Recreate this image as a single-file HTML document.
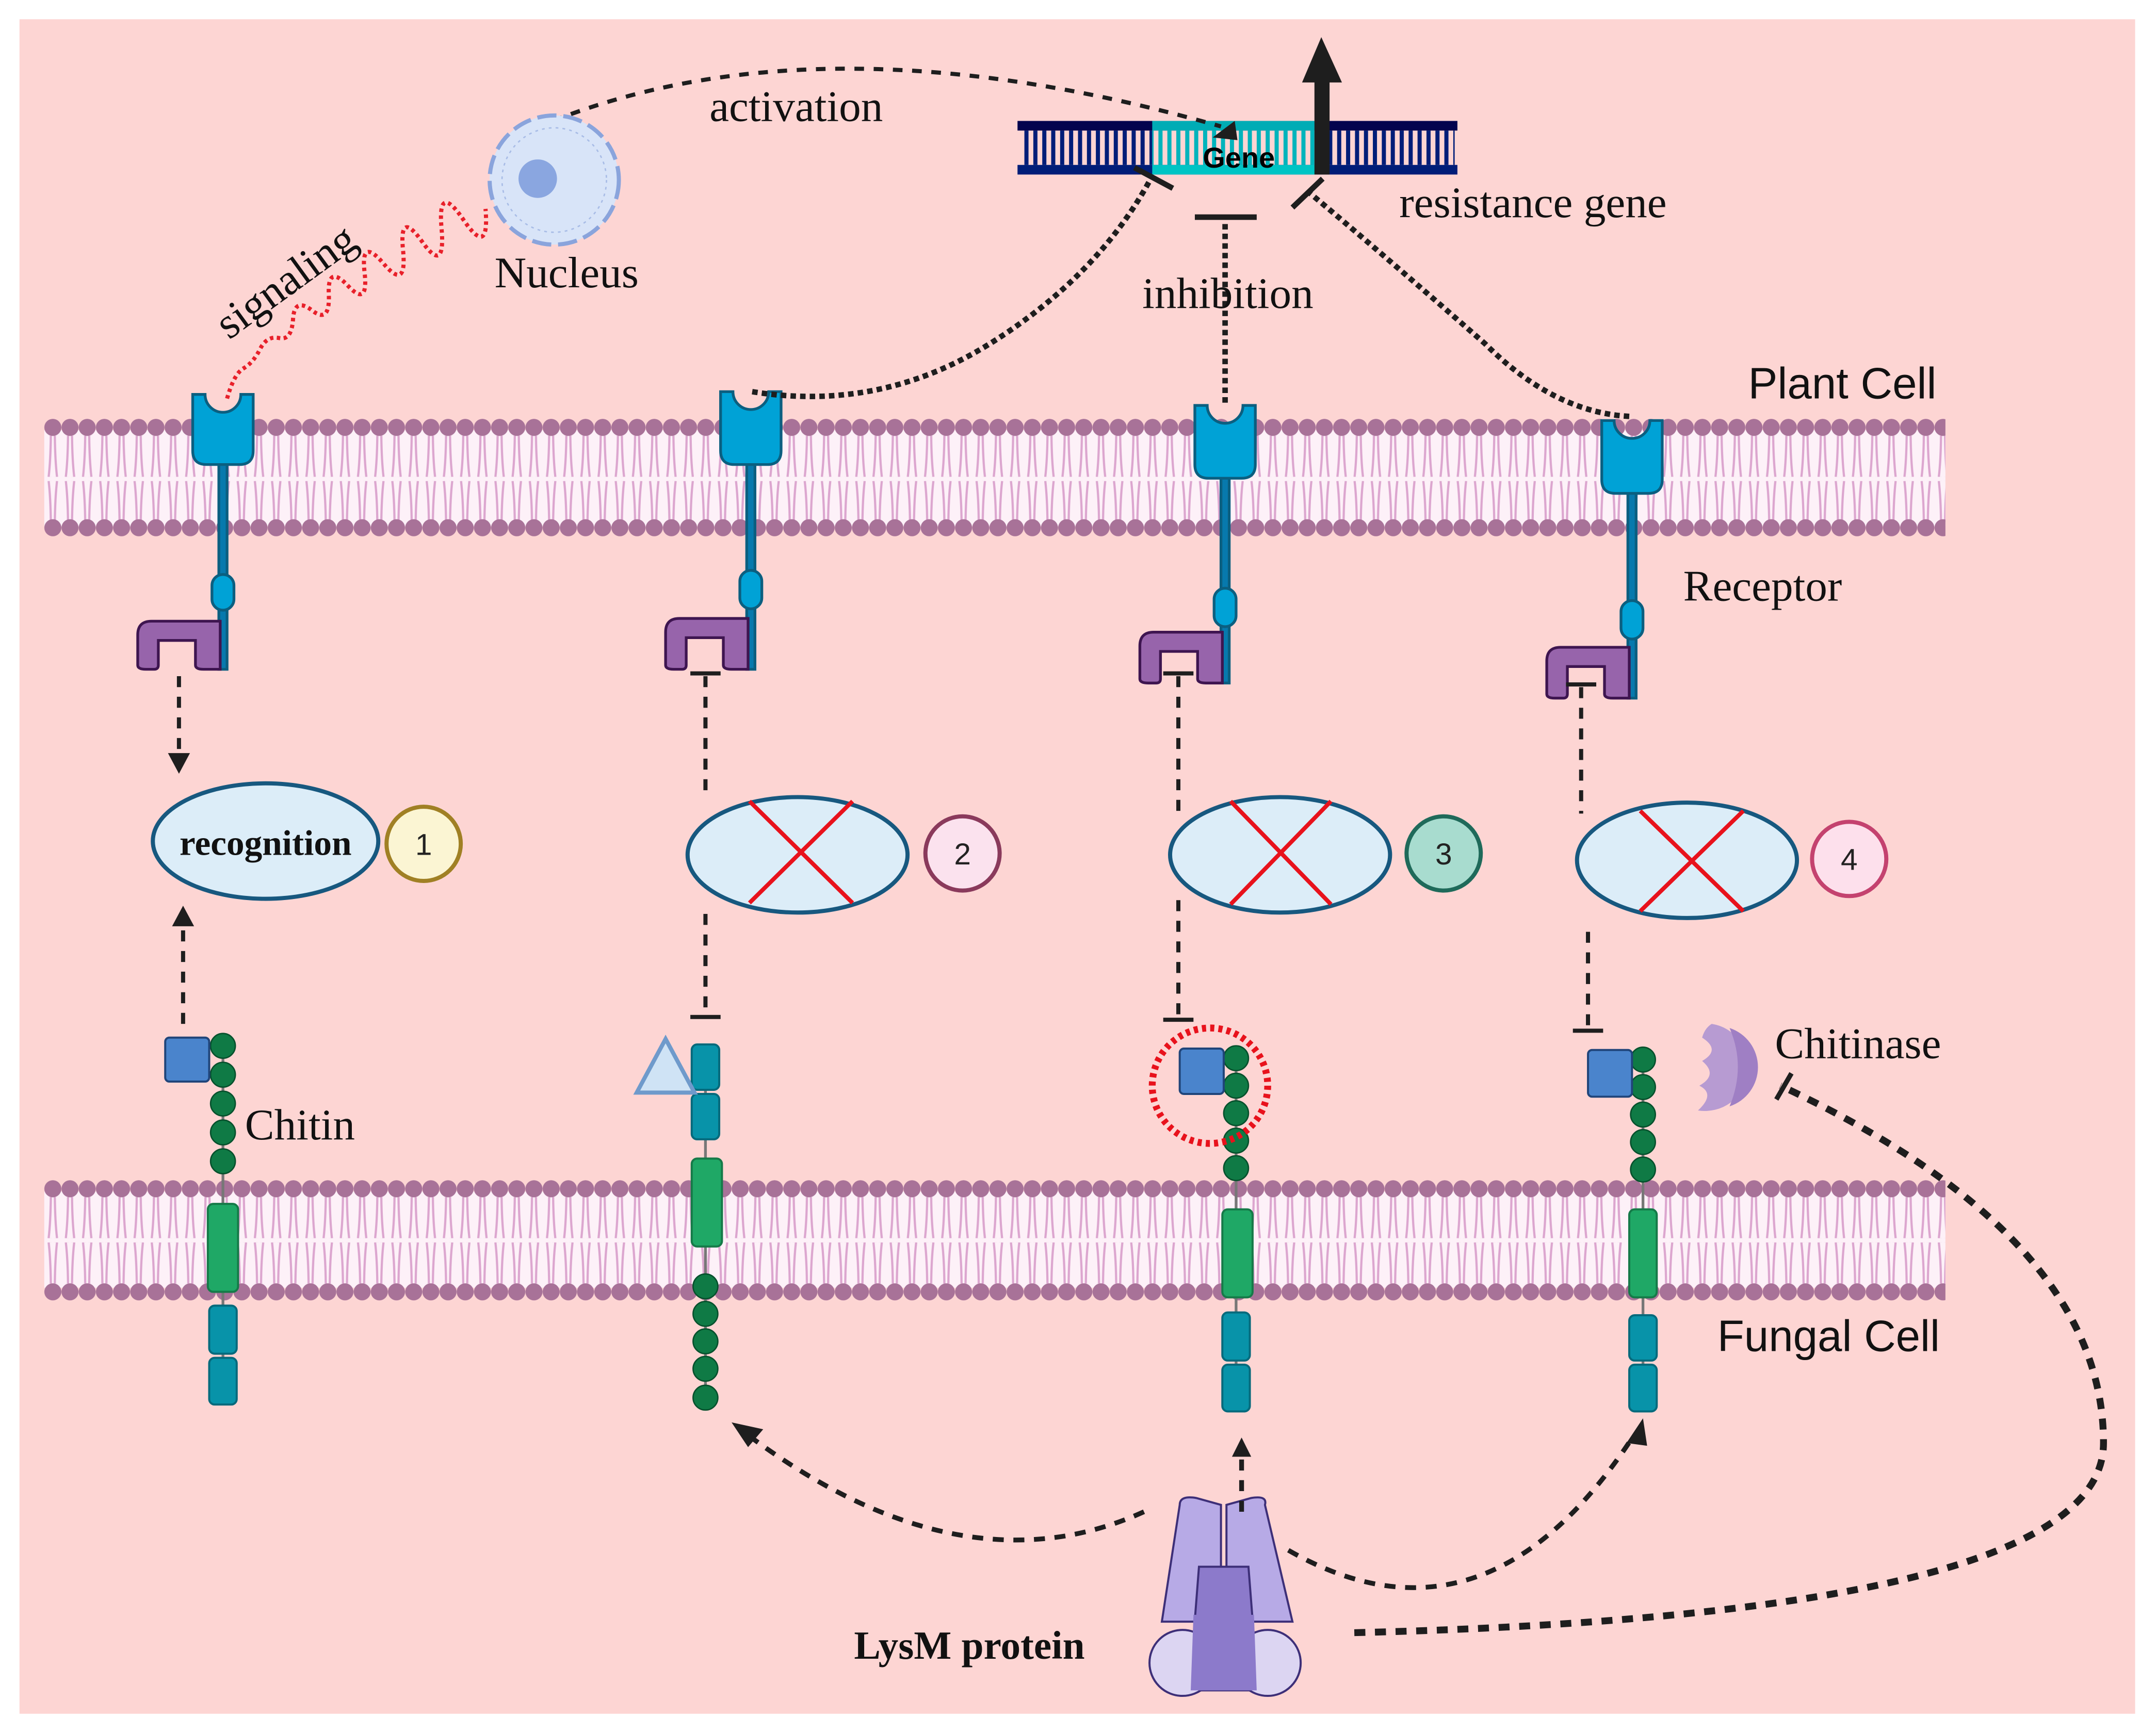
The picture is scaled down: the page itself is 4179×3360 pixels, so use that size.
<!DOCTYPE html>
<html><head><meta charset="utf-8"><style>html,body{margin:0;padding:0;background:#fff}svg{display:block}</style></head><body>
<svg xmlns="http://www.w3.org/2000/svg" width="4179" height="3360" viewBox="0 0 1568 1261">
<defs>
<pattern id="tA" x="32" y="317" width="12.5" height="30" patternUnits="userSpaceOnUse"><path d="M4.8 0 Q4.6 18 3.2 30 M7.7 0 Q7.9 18 9.3 30" stroke="#dca6cf" stroke-width="1.6" fill="none"/></pattern>
<pattern id="tB" x="32" y="350" width="12.5" height="30" patternUnits="userSpaceOnUse"><path d="M3.2 0 Q4.6 12 4.8 30 M9.3 0 Q7.9 12 7.7 30" stroke="#dca6cf" stroke-width="1.6" fill="none"/></pattern>
<pattern id="tC" x="32" y="871" width="12.5" height="30" patternUnits="userSpaceOnUse"><path d="M4.8 0 Q4.6 18 3.2 30 M7.7 0 Q7.9 18 9.3 30" stroke="#dca6cf" stroke-width="1.6" fill="none"/></pattern>
<pattern id="tD" x="32" y="904" width="12.5" height="30" patternUnits="userSpaceOnUse"><path d="M3.2 0 Q4.6 12 4.8 30 M9.3 0 Q7.9 12 7.7 30" stroke="#dca6cf" stroke-width="1.6" fill="none"/></pattern>
<pattern id="heads1" x="32" y="301" width="12.5" height="20" patternUnits="userSpaceOnUse"><circle cx="6.25" cy="10" r="6.2" fill="#a87298"/></pattern>
<pattern id="heads2" x="32" y="374" width="12.5" height="20" patternUnits="userSpaceOnUse"><circle cx="6.25" cy="10" r="6.2" fill="#a87298"/></pattern>
<pattern id="heads3" x="32" y="855" width="12.5" height="20" patternUnits="userSpaceOnUse"><circle cx="6.25" cy="10" r="6.2" fill="#a87298"/></pattern>
<pattern id="heads4" x="32" y="930" width="12.5" height="20" patternUnits="userSpaceOnUse"><circle cx="6.25" cy="10" r="6.2" fill="#a87298"/></pattern>
<pattern id="rung" x="745" y="0" width="6.5" height="10" patternUnits="userSpaceOnUse"><rect x="0" y="0" width="3" height="10" fill="#001d78"/></pattern>
<pattern id="rung2" x="745" y="0" width="6.5" height="10" patternUnits="userSpaceOnUse"><rect x="0" y="0" width="3" height="10" fill="#00b4bc"/></pattern>
</defs>
<rect width="1568" height="1261" fill="#fff"/>
<rect x="14" y="14" width="1539" height="1233" fill="#fdd5d3"/>

<!-- membranes -->
<rect x="32" y="313" width="1383" height="70" fill="#fdf1f8"/>
<rect x="32" y="317" width="1383" height="30" fill="url(#tA)"/>
<rect x="32" y="350" width="1383" height="30" fill="url(#tB)"/>
<rect x="32" y="867" width="1383" height="70" fill="#fdf1f8"/>
<rect x="32" y="871" width="1383" height="30" fill="url(#tC)"/>
<rect x="32" y="904" width="1383" height="30" fill="url(#tD)"/>
<rect x="32" y="304" width="1383" height="14" fill="url(#heads1)"/>
<rect x="32" y="377" width="1383" height="14" fill="url(#heads2)"/>
<rect x="32" y="858" width="1383" height="14" fill="url(#heads3)"/>
<rect x="32" y="933" width="1383" height="14" fill="url(#heads4)"/>

<!-- receptors -->
<g stroke="#0b5f80" stroke-width="2">
<g transform="translate(162,0)">
<rect x="-3" y="330" width="6" height="157" fill="#0779ad"/>
<path d="M-22 287 H-13 A13 13 0 0 0 13 287 H22 V328 Q22 338 12 338 H-12 Q-22 338 -22 328 Z" fill="#00a2d6"/>
<rect x="-8" y="418" width="16" height="26" rx="8" fill="#00a2d6"/>
<path d="M-2 452 H-52 Q-62 452 -62 462 V484 Q-62 487 -56 487 H-50 Q-47 487 -47 484 V466 H-20 V484 Q-20 487 -14 487 H-2 Z" fill="#9764ab" stroke="#3e1550"/>
</g>
<g transform="translate(546,-2)">
<rect x="-3" y="330" width="6" height="159" fill="#0779ad"/>
<path d="M-22 287 H-13 A13 13 0 0 0 13 287 H22 V330 Q22 340 12 340 H-12 Q-22 340 -22 330 Z" fill="#00a2d6"/>
<rect x="-8" y="417" width="16" height="28" rx="8" fill="#00a2d6"/>
<path d="M-2 452 H-52 Q-62 452 -62 462 V486 Q-62 489 -56 489 H-50 Q-47 489 -47 486 V466 H-20 V486 Q-20 489 -14 489 H-2 Z" fill="#9764ab" stroke="#3e1550"/>
</g>
<g transform="translate(891,8)">
<rect x="-3" y="330" width="6" height="159" fill="#0779ad"/>
<path d="M-22 287 H-13 A13 13 0 0 0 13 287 H22 V330 Q22 340 12 340 H-12 Q-22 340 -22 330 Z" fill="#00a2d6"/>
<rect x="-8" y="420" width="16" height="28" rx="8" fill="#00a2d6"/>
<path d="M-2 452 H-52 Q-62 452 -62 462 V486 Q-62 489 -56 489 H-50 Q-47 489 -47 486 V466 H-20 V486 Q-20 489 -14 489 H-2 Z" fill="#9764ab" stroke="#3e1550"/>
</g>
<g transform="translate(1187,19)">
<rect x="-3" y="330" width="6" height="159" fill="#0779ad"/>
<path d="M-22 287 H-13 A13 13 0 0 0 13 287 H22 V330 Q22 340 12 340 H-12 Q-22 340 -22 330 Z" fill="#00a2d6"/>
<rect x="-8" y="418" width="16" height="28" rx="8" fill="#00a2d6"/>
<path d="M-2 452 H-52 Q-62 452 -62 462 V486 Q-62 489 -56 489 H-50 Q-47 489 -47 486 V466 H-20 V486 Q-20 489 -14 489 H-2 Z" fill="#9764ab" stroke="#3e1550"/>
</g>
</g>

<!-- vertical dashed connectors -->
<g stroke="#1e1e1e" stroke-width="3" stroke-dasharray="8 7" fill="none">
<line x1="130" y1="492" x2="130" y2="550"/>
<line x1="133" y1="745" x2="133" y2="675"/>
<line x1="513" y1="492" x2="513" y2="578"/>
<line x1="513" y1="665" x2="513" y2="738"/>
<line x1="857" y1="492" x2="857" y2="592"/>
<line x1="857" y1="655" x2="857" y2="740"/>
<line x1="1150" y1="500" x2="1150" y2="592"/>
<line x1="1155" y1="678" x2="1155" y2="746"/>
</g>
<g stroke="#1e1e1e" stroke-width="3">
<line x1="502" y1="490" x2="524" y2="490"/>
<line x1="502" y1="740" x2="524" y2="740"/>
<line x1="846" y1="490" x2="868" y2="490"/>
<line x1="846" y1="742" x2="868" y2="742"/>
<line x1="1139" y1="498" x2="1161" y2="498"/>
<line x1="1144" y1="750" x2="1166" y2="750"/>
</g>
<g fill="#1e1e1e">
<polygon points="122,548 138,548 130,563"/>
<polygon points="125,674 141,674 133,659"/>
</g>

<!-- ellipses -->
<g fill="#dcedf8" stroke="#17587f" stroke-width="3">
<ellipse cx="193" cy="612" rx="82" ry="42"/>
<ellipse cx="580" cy="622" rx="80" ry="42"/>
<ellipse cx="931" cy="622" rx="80" ry="42"/>
<ellipse cx="1227" cy="626" rx="80" ry="42"/>
</g>
<g stroke="#e8121c" stroke-width="3">
<line x1="545" y1="583" x2="620" y2="657"/><line x1="620" y1="583" x2="545" y2="657"/>
<line x1="895" y1="583" x2="968" y2="658"/><line x1="968" y1="583" x2="895" y2="658"/>
<line x1="1193" y1="590" x2="1268" y2="663"/><line x1="1268" y1="590" x2="1193" y2="663"/>
</g>
<text x="193" y="622" font-family="Liberation Serif, serif" font-weight="bold" font-size="26" text-anchor="middle" fill="#111">recognition</text>
<g stroke-width="3" font-family="Liberation Sans, sans-serif" font-size="22" text-anchor="middle">
<circle cx="308" cy="614" r="27" fill="#fbf5d3" stroke="#a08024"/>
<circle cx="700" cy="621" r="27" fill="#fbe2ee" stroke="#8a3a5c"/>
<circle cx="1050" cy="621" r="27" fill="#a8dccf" stroke="#1f6a5a"/>
<circle cx="1345" cy="625" r="27" fill="#fde0ec" stroke="#c4426f"/>
<text x="308" y="622" fill="#222" stroke="none">1</text>
<text x="700" y="629" fill="#222" stroke="none">2</text>
<text x="1050" y="629" fill="#222" stroke="none">3</text>
<text x="1345" y="633" fill="#222" stroke="none">4</text>
</g>

<!-- fungal constructs -->
<g stroke="#777" stroke-width="2">
<line x1="162" y1="760" x2="162" y2="1010"/>
<line x1="513" y1="760" x2="513" y2="1017"/>
<line x1="899" y1="770" x2="899" y2="1020"/>
<line x1="1195" y1="770" x2="1195" y2="1020"/>
</g>
<g fill="#0f7a45" stroke="#06502c" stroke-width="1">
<circle cx="162" cy="761" r="9"/><circle cx="162" cy="782" r="9"/><circle cx="162" cy="803" r="9"/><circle cx="162" cy="824" r="9"/><circle cx="162" cy="845" r="9"/>
<circle cx="513" cy="936" r="9"/><circle cx="513" cy="956" r="9"/><circle cx="513" cy="976" r="9"/><circle cx="513" cy="996" r="9"/><circle cx="513" cy="1017" r="9"/>
<circle cx="899" cy="770" r="9"/><circle cx="899" cy="790" r="9"/><circle cx="899" cy="810" r="9"/><circle cx="899" cy="830" r="9"/><circle cx="899" cy="850" r="9"/>
<circle cx="1195" cy="771" r="9"/><circle cx="1195" cy="791" r="9"/><circle cx="1195" cy="811" r="9"/><circle cx="1195" cy="831" r="9"/><circle cx="1195" cy="851" r="9"/>
</g>
<g fill="#1fa866" stroke="#157a48" stroke-width="1.5">
<rect x="151" y="876" width="22" height="64" rx="4"/>
<rect x="503" y="843" width="22" height="64" rx="4"/>
<rect x="889" y="880" width="22" height="64" rx="4"/>
<rect x="1185" y="880" width="20" height="64" rx="4"/>
</g>
<g fill="#0893a9" stroke="#066a7c" stroke-width="1.5">
<rect x="152" y="950" width="20" height="35" rx="4"/><rect x="152" y="988" width="20" height="34" rx="4"/>
<rect x="503" y="760" width="20" height="33" rx="4"/><rect x="503" y="796" width="20" height="33" rx="4"/>
<rect x="889" y="955" width="20" height="35" rx="4"/><rect x="889" y="993" width="20" height="34" rx="4"/>
<rect x="1185" y="957" width="20" height="33" rx="4"/><rect x="1185" y="993" width="20" height="34" rx="4"/>
</g>
<g fill="#4a84cc" stroke="#20457a" stroke-width="1.5">
<rect x="120" y="755" width="32" height="32" rx="3"/>
<rect x="858" y="763" width="32" height="33" rx="3"/>
<rect x="1155" y="764" width="32" height="34" rx="3"/>
</g>
<polygon points="484,756 505,795 463,795" fill="#cfe3f5" stroke="#6f9acb" stroke-width="3"/>
<circle cx="880" cy="790" r="42" fill="none" stroke="#e8121c" stroke-width="5" stroke-dasharray="3 3"/>
<!-- chitinase -->
<path d="M1245 745 A31 31 0 1 1 1235 808 Q1248 796 1236 790 Q1250 782 1238 772 Q1252 764 1238 755 Q1240 748 1245 745 Z" fill="#b79bd2"/>
<path d="M1258 748 A30 30 0 0 1 1258 805 Q1270 776 1258 748 Z" fill="#9f7fc4"/>

<!-- LysM protein -->
<g stroke="#3d2f78" stroke-width="1.5">
<path d="M858 1095 Q858 1088 870 1090 L888 1095 L888 1180 L845 1180 Z" fill="#b7aae6"/>
<path d="M920 1095 Q922 1088 910 1090 L892 1095 L892 1180 L940 1180 Z" fill="#b7aae6"/>
<polygon points="872,1140 908,1140 915,1230 865,1230" fill="#8c7acb"/>
<circle cx="860" cy="1210" r="24" fill="#dcd5f2"/>
<circle cx="922" cy="1210" r="24" fill="#dcd5f2"/>
<polygon points="868,1175 912,1175 914,1230 866,1230" fill="#8c7acb" stroke="none"/>
</g>
<text x="705" y="1207" font-family="Liberation Serif, serif" font-weight="bold" font-size="29" text-anchor="middle" fill="#111">LysM protein</text>

<!-- LysM arrows -->
<g stroke="#1e1e1e" stroke-width="3.5" stroke-dasharray="8 7" fill="none">
<path d="M832 1100 Q700 1160 545 1045"/>
<line x1="903" y1="1100" x2="903" y2="1058"/>
<path d="M937 1128 Q1080 1210 1188 1045"/>
<path d="M985 1188 Q1530 1175 1530 1050 Q1530 900 1295 790" stroke-width="5"/>
</g>
<g fill="#1e1e1e">
<polygon points="532,1035 555,1040 544,1053"/>
<polygon points="896,1060 910,1060 903,1046"/>
<polygon points="1195,1032 1183,1050 1198,1052"/>
</g>
<line x1="1292" y1="800" x2="1303" y2="781" stroke="#1e1e1e" stroke-width="3.5"/>

<!-- DNA -->
<rect x="740" y="88" width="320" height="7" fill="#03034e"/>
<rect x="740" y="120" width="320" height="7" fill="#001d78"/>
<rect x="838" y="88" width="120" height="7" fill="#00acb5"/>
<rect x="838" y="120" width="120" height="7" fill="#00c4c4"/>
<rect x="742" y="95" width="96" height="25" fill="url(#rung)"/>
<rect x="958" y="95" width="100" height="25" fill="url(#rung)"/>
<rect x="838" y="95" width="120" height="25" fill="url(#rung2)"/>
<text x="901" y="122" font-family="Liberation Sans, sans-serif" font-weight="bold" font-size="21" text-anchor="middle" fill="#000">Gene</text>
<rect x="956" y="55" width="11" height="72" fill="#1e1e1e"/>
<polygon points="947,60 976,60 961,27" fill="#1e1e1e"/>

<!-- activation -->
<path d="M402 88 Q600 10 888 92" fill="none" stroke="#1e1e1e" stroke-width="3" stroke-dasharray="7 7"/>
<polygon points="882,100 898,88 900,102" fill="#1e1e1e"/>
<!-- nucleus -->
<circle cx="403" cy="131" r="47" fill="#d8e4f8" stroke="#8aa4dc" stroke-width="3" stroke-dasharray="14 5"/>
<circle cx="403" cy="131" r="38" fill="none" stroke="#a8bce6" stroke-width="1" stroke-dasharray="2 3"/>
<circle cx="391" cy="130" r="14" fill="#8aa6e0"/>
<!-- signaling -->
<path d="M165 290 q5 -18 12 -22 t12 -14 t14 -8 t10 -14 t14 -6 t12 -12 t14 -6 t12 -10 t14 -6 t14 -10 t14 -6 t14 -10 t16 -6 t16 -8" fill="none" stroke="#e8202a" stroke-width="3" stroke-dasharray="2.5 2.5"/>

<!-- inhibition lines -->
<g stroke="#1e1e1e" stroke-width="4" stroke-dasharray="4 3" fill="none">
<path d="M547 285 Q640 300 720 250 Q800 200 838 128"/>
<line x1="891" y1="293" x2="891" y2="162"/>
<path d="M1185 303 Q1130 300 1080 250 Q1000 180 952 140"/>
</g>
<g stroke="#1e1e1e" stroke-width="4">
<line x1="825" y1="122" x2="853" y2="137"/>
<line x1="869" y1="158" x2="914" y2="158"/>
<line x1="940" y1="151" x2="962" y2="130"/>
</g>

<!-- labels -->
<g font-family="Liberation Serif, serif" font-size="32" fill="#111">
<text x="579" y="88" text-anchor="middle">activation</text>
<text x="1115" y="158" text-anchor="middle">resistance gene</text>
<text x="893" y="224" text-anchor="middle">inhibition</text>
<text x="1282" y="437" text-anchor="middle">Receptor</text>
<text x="412" y="209" text-anchor="middle">Nucleus</text>
<text x="208" y="215" text-anchor="middle" transform="rotate(-36 208 205)">signaling</text>
<text x="178" y="829">Chitin</text>
<text x="1291" y="770">Chitinase</text>
</g>
<g font-family="Liberation Sans, sans-serif" font-size="32" fill="#111">
<text x="1340" y="290" text-anchor="middle">Plant Cell</text>
<text x="1330" y="983" text-anchor="middle">Fungal Cell</text>
</g>
</svg>
</body></html>
